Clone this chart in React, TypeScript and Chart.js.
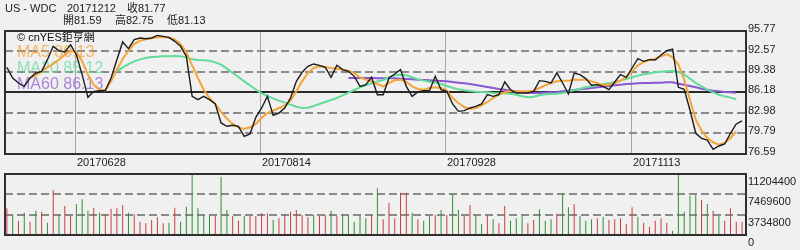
import React, { useEffect, useRef } from 'react';
import { Chart, registerables } from 'chart.js';

Chart.register(...registerables);

// ---- data ----
const CLOSE = [
  90.11, 88.44, 87.66, 87.14, 88.44, 89.22, 89.48, 91.3, 93.38, 92.7,
  92.5, 93.64, 92.08, 88.96, 85.43, 86.36, 86.47, 86.47, 88.44, 91.3,
  94.06, 93.02, 94.42, 94.68, 94.57, 94.68, 95.09, 94.94, 94.78, 94.16,
  93.38, 91.82, 85.58, 85.07, 85.58, 85.07, 84.39, 81.43, 80.91, 81.06,
  80.91, 79.35, 79.71, 82.31, 83.77, 85.58, 82.62, 82.98, 83.77, 85.32,
  87.92, 89.33, 90.26, 90.63, 90.42, 90.1, 88.55, 90.42, 89.74, 89.48,
  88.7, 87.14, 87.4, 88.55, 85.84, 85.84, 88.44, 89.07, 89.74, 87.14,
  85.58, 86.26, 86.47, 86.47, 88.7, 86.62, 86.36, 84.39, 83.24, 83.35,
  83.77, 84.02, 84.39, 85.84, 85.58, 85.84, 87.82, 86.62, 86.1, 86.1,
  86.1, 86.36, 88.03, 87.92, 87.66, 89.22, 87.66, 85.95, 89.22, 88.96,
  88.34, 87.3, 87.4, 87.14, 86.62, 87.82, 88.96, 88.55, 90.0, 91.46,
  91.04, 91.3, 91.25, 92.03, 92.7, 92.96, 86.99, 86.68, 83.45, 79.82,
  79.03, 78.77, 77.32, 77.84, 78.15, 79.82, 81.27, 81.77,
];

const MA5_START = 4;
const MA5 = [
  88.44, 88.86, 89.48, 90.1, 90.62, 91.3, 92.08, 92.7, 92.5, 91.04,
  88.96, 87.4, 86.62, 86.52, 87.92, 89.74, 91.4, 92.7, 93.74, 94.26,
  94.47, 94.63, 94.78, 94.83, 94.73, 94.47, 93.74, 92.5, 90.42, 88.44,
  86.62, 85.32, 84.39, 83.14, 82.1, 81.27, 80.75, 80.49, 80.75, 81.27,
  82.2, 82.98, 83.35, 83.76, 84.18, 84.91, 86.36, 87.92, 89.22, 90.0,
  90.26, 90.16, 90.0, 89.9, 89.74, 89.59, 89.22, 88.55, 88.18, 87.92,
  87.51, 87.14, 87.66, 88.08, 88.18, 87.82, 87.14, 86.73, 86.62, 86.88,
  86.99, 86.88, 86.47, 85.32, 84.54, 83.92, 83.61, 83.76, 84.18, 84.7,
  85.32, 85.84, 86.21, 86.36, 86.36, 86.36, 86.36, 86.47, 86.88, 87.3,
  87.66, 87.92, 88.03, 88.03, 88.18, 88.18, 88.18, 87.92, 87.66, 87.3,
  87.4, 87.66, 88.03, 88.55, 89.48, 90.42, 90.94, 91.25, 91.46, 91.82,
  92.18, 91.66, 90.52, 88.18, 85.06, 81.95, 80.23, 79.09, 78.41, 78.05,
  78.31, 79.09, 80.13,
];

const MA20_START = 19;
const MA20 = [
  89.48, 90.1, 90.62, 91.04, 91.35, 91.56, 91.72, 91.77, 91.82, 91.82,
  91.87, 91.82, 91.66, 91.35, 91.25, 91.2, 91.14, 90.88, 90.52, 89.9,
  89.22, 88.6, 87.92, 87.3, 86.62, 86.05, 85.64, 85.27, 84.91, 84.6,
  84.29, 83.97, 83.76, 83.82, 84.08, 84.39, 84.7, 85.01, 85.32, 85.74,
  86.16, 86.57, 86.99, 87.3, 87.61, 87.92, 88.13, 88.55, 88.86, 88.96,
  88.86, 88.55, 88.23, 88.03, 87.87, 87.71, 87.51, 87.19, 86.93, 86.67,
  86.52, 86.41, 86.31, 86.26, 86.21, 86.1, 86.05, 86.05, 86.0, 85.84,
  85.58, 85.43, 85.53, 85.74, 85.9, 85.95, 86.0, 86.1, 86.36, 86.57,
  86.78, 86.99, 87.14, 87.3, 87.45, 87.61, 87.82, 88.03, 88.29, 88.55,
  88.81, 89.01, 89.17, 89.33, 89.43, 89.48, 89.53, 89.38, 88.96, 88.34,
  87.66, 87.14, 86.62, 86.21, 85.84, 85.58, 85.38, 85.12,
];

const MA60_START = 59;
const MA60 = [
  88.44, 88.44, 88.44, 88.44, 88.44, 88.39, 88.39, 88.39, 88.39, 88.34,
  88.29, 88.23, 88.18, 88.13, 88.08, 88.03, 87.97, 87.92, 87.82, 87.71,
  87.61, 87.51, 87.35, 87.19, 87.04, 86.88, 86.73, 86.62, 86.47, 86.36,
  86.26, 86.16, 86.1, 86.1, 86.16, 86.21, 86.26, 86.36, 86.47, 86.57,
  86.67, 86.78, 86.88, 86.99, 87.09, 87.19, 87.3, 87.4, 87.51, 87.56,
  87.61, 87.66, 87.66, 87.71, 87.71, 87.77, 87.77, 87.56, 87.4, 87.19,
  86.99, 86.78, 86.62, 86.47, 86.36, 86.26, 86.21, 86.13,
];

const VOLUME = [
  4900000, 3670000, 2630000, 4100000, 2450000, 4470000, 4290000, 2270000, 8270000, 3670000,
  5330000, 3490000, 5700000, 6550000, 4470000, 5020000, 4100000, 3800000, 4840000, 5020000,
  5510000, 4100000, 3800000, 2450000, 2140000, 2760000, 3250000, 2140000, 2270000, 5020000,
  2450000, 5200000, 11000000, 4900000, 3670000, 3670000, 3490000, 10700000, 4590000, 3490000,
  2630000, 3490000, 3490000, 3490000, 3980000, 3980000, 2760000, 3060000, 3800000, 4290000,
  4590000, 3670000, 3250000, 3670000, 3490000, 3670000, 4470000, 3490000, 3800000, 3670000,
  2450000, 3670000, 3060000, 3670000, 8570000, 2880000, 5940000, 3060000, 7780000, 7780000,
  4100000, 2880000, 2630000, 3490000, 3670000, 4590000, 3670000, 7530000, 4590000, 3490000,
  5510000, 3490000, 2020000, 3670000, 2880000, 2140000, 5330000, 2630000, 3060000, 3490000,
  2140000, 2760000, 4720000, 2630000, 2880000, 3900000, 7650000, 5080000, 5690000, 3490000,
  2630000, 2880000, 3060000, 3370000, 2760000, 2880000, 3060000, 2020000, 5080000, 3370000,
  2270000, 1530000, 2630000, 3060000, 2270000, 800000, 11204400, 4290000, 7160000, 7350000,
  6430000, 5690000, 4470000, 3490000, 2630000, 4900000, 2450000, 2450000,
];

// 1 = up day (red bar), 0 = down day (green bar)
const VOL_UP = [
  1, 0, 1, 0, 1, 0, 1, 0, 1, 0,
  1, 1, 0, 0, 0, 1, 0, 1, 1, 1,
  1, 0, 1, 1, 1, 1, 1, 1, 0, 1,
  0, 0, 0, 0, 0, 0, 1, 0, 0, 1,
  1, 0, 1, 1, 1, 1, 0, 1, 1, 1,
  1, 1, 1, 0, 1, 1, 0, 1, 0, 0,
  0, 0, 0, 1, 0, 1, 1, 1, 1, 1,
  0, 1, 0, 0, 1, 0, 1, 0, 0, 1,
  1, 0, 0, 1, 0, 1, 1, 0, 0, 0,
  1, 1, 0, 0, 0, 1, 0, 0, 1, 0,
  0, 0, 1, 0, 1, 1, 1, 1, 1, 0,
  1, 1, 1, 1, 1, 0, 0, 0, 0, 0,
  1, 0, 1, 0, 1, 1, 1, 1,
];

const PRICE_TICKS = [95.77, 92.57, 89.38, 86.18, 82.98, 79.79, 76.59];
const PRICE_BASE = 86.18;
const VOLUME_TICKS = [11204400, 7469600, 3734800, 0];
const DATE_LABELS = ['20170628', '20170814', '20170928', '20171113'];
const DATE_INDEX = [12, 44, 76, 108];
const TITLE_LINE1 = ['US - WDC', '20171212', '收81.77'];
const TITLE_LINE2 = ['開81.59', '高82.75', '低81.13'];
const LEGEND = ['MA5 80.13', 'MA20 85.12', 'MA60 86.13'];
const WATERMARK = '© cnYES鉅亨網';

// ---- styles ----
const FONT = '"Liberation Sans", "Noto Sans CJK TC", sans-serif';
const C_CLOSE = '#1c1c1c';
const C_MA5 = '#f3a53a';
const C_MA20 = '#62dc98';
const C_MA60 = '#8a58d0';
const LEGEND_COLORS = ['rgba(243,165,58,0.75)', 'rgba(98,220,152,0.7)', 'rgba(138,88,208,0.7)'];
const C_UP = '#cc3c3c';
const C_DOWN = '#2f902f';
const X_MIN = -0.328;
const X_MAX = 127.68;

const toPts = (arr: number[], start: number) => arr.map((v, k) => ({ x: start + k, y: v }));

function dashedH(ctx: CanvasRenderingContext2D, left: number, right: number, yy: number) {
  ctx.save();
  ctx.strokeStyle = '#8a8a8a';
  ctx.lineWidth = 2;
  ctx.setLineDash([8, 4]);
  ctx.beginPath();
  ctx.moveTo(left, yy);
  ctx.lineTo(right, yy);
  ctx.stroke();
  ctx.restore();
}

const pricePlugin = {
  id: 'priceDecor',
  beforeDatasetsDraw(chart: any) {
    const { ctx, chartArea: a } = chart;
    const x = chart.scales.x;
    const y = chart.scales.y;
    ctx.save();
    ctx.strokeStyle = '#a6a6a6';
    ctx.lineWidth = 1;
    DATE_INDEX.forEach((idx) => {
      const px = Math.floor(x.getPixelForValue(idx)) - 0.5;
      ctx.beginPath();
      ctx.moveTo(px, a.top);
      ctx.lineTo(px, a.bottom);
      ctx.stroke();
    });
    PRICE_TICKS.forEach((v, k) => {
      if (k === 0 || k === PRICE_TICKS.length - 1) return;
      const py = Math.floor(y.getPixelForValue(v) + 0.45);
      if (v === PRICE_BASE) {
        ctx.strokeStyle = '#2a2a2a';
        ctx.lineWidth = 2;
        ctx.beginPath();
        ctx.moveTo(a.left, py);
        ctx.lineTo(a.right, py);
        ctx.stroke();
      } else {
        dashedH(ctx, a.left, a.right, py);
      }
    });
    ctx.textAlign = 'left';
    ctx.textBaseline = 'alphabetic';
    ctx.fillStyle = '#111';
    ctx.font = `11px ${FONT}`;
    ctx.fillText(WATERMARK, a.left + 12, a.top + 10);
    ctx.font = `16px ${FONT}`;
    LEGEND.forEach((t, k) => {
      ctx.fillStyle = LEGEND_COLORS[k];
      ctx.fillText(t, a.left + 12, a.top + 26 + k * 16);
    });
    ctx.restore();
  },
  afterDraw(chart: any) {
    const { ctx, chartArea: a } = chart;
    const x = chart.scales.x;
    const y = chart.scales.y;
    ctx.save();
    ctx.strokeStyle = '#2f2f2f';
    ctx.lineWidth = 2;
    ctx.setLineDash([]);
    ctx.strokeRect(a.left, a.top, a.right - a.left, a.bottom - a.top);
    ctx.fillStyle = '#222';
    ctx.font = `11px ${FONT}`;
    ctx.textAlign = 'left';
    ctx.textBaseline = 'alphabetic';
    PRICE_TICKS.forEach((v) => {
      ctx.fillText(v.toFixed(2), a.right + 2, Math.round(y.getPixelForValue(v)) + 1);
    });
    DATE_LABELS.forEach((lbl, k) => {
      const px = Math.floor(x.getPixelForValue(DATE_INDEX[k])) - 0.5;
      ctx.fillText(lbl, px + 1.5, a.bottom + 12);
    });
    const x1 = [5, 67, 127];
    const x2 = [63, 115, 167];
    TITLE_LINE1.forEach((t, k) => ctx.fillText(t, x1[k], 12));
    TITLE_LINE2.forEach((t, k) => ctx.fillText(t, x2[k], 24));
    ctx.restore();
  },
};

const volumePlugin = {
  id: 'volumeDecor',
  beforeDatasetsDraw(chart: any) {
    const { ctx, chartArea: a } = chart;
    const y = chart.scales.y;
    VOLUME_TICKS.forEach((v, k) => {
      if (k === 0 || k === VOLUME_TICKS.length - 1) return;
      dashedH(ctx, a.left, a.right, Math.round(y.getPixelForValue(v)));
    });
  },
  afterDraw(chart: any) {
    const { ctx, chartArea: a } = chart;
    const y = chart.scales.y;
    ctx.save();
    ctx.strokeStyle = '#2f2f2f';
    ctx.lineWidth = 2;
    ctx.strokeRect(a.left, a.top, a.right - a.left, a.bottom - a.top);
    ctx.fillStyle = '#222';
    ctx.font = `11px ${FONT}`;
    ctx.textAlign = 'left';
    ctx.textBaseline = 'alphabetic';
    VOLUME_TICKS.forEach((v) => {
      ctx.fillText(String(v), a.right + 2, Math.round(y.getPixelForValue(v)) + 11);
    });
    ctx.restore();
  },
};

export default function App() {
  const priceRef = useRef<HTMLCanvasElement>(null);
  const volRef = useRef<HTMLCanvasElement>(null);

  useEffect(() => {
    const common = {
      responsive: false,
      animation: false as const,
      devicePixelRatio: 1,
      events: [] as any[],
      plugins: { legend: { display: false }, tooltip: { enabled: false } },
    };
    const priceChart = new Chart(priceRef.current!, {
      type: 'line',
      data: {
        datasets: [
          { data: toPts(CLOSE, 0), borderColor: C_CLOSE, borderWidth: 1.4 },
          { data: toPts(MA5, MA5_START), borderColor: C_MA5, borderWidth: 2 },
          { data: toPts(MA20, MA20_START), borderColor: C_MA20, borderWidth: 2 },
          { data: toPts(MA60, MA60_START), borderColor: C_MA60, borderWidth: 2 },
        ],
      },
      options: {
        ...common,
        layout: { padding: { left: 5, right: 54, top: 31, bottom: 16 } },
        elements: { point: { radius: 0 }, line: { tension: 0, fill: false } },
        scales: {
          x: { type: 'linear', min: X_MIN, max: X_MAX, display: false },
          y: { type: 'linear', min: PRICE_TICKS[PRICE_TICKS.length - 1], max: PRICE_TICKS[0], display: false },
        },
      } as any,
      plugins: [pricePlugin],
    });
    const volChart = new Chart(volRef.current!, {
      type: 'bar',
      data: {
        datasets: [
          {
            data: toPts(VOLUME, 0),
            backgroundColor: VOL_UP.map((u) => (u ? C_UP : C_DOWN)),
            borderWidth: 0,
            barThickness: 1,
            inflateAmount: 0,
          } as any,
        ],
      },
      options: {
        ...common,
        layout: { padding: { left: 5, right: 54, top: 14, bottom: 15 } },
        scales: {
          x: { type: 'linear', min: X_MIN, max: X_MAX, display: false, offset: false },
          y: { type: 'linear', min: 0, max: VOLUME_TICKS[0], display: false },
        },
      } as any,
      plugins: [volumePlugin],
    });
    return () => {
      priceChart.destroy();
      volChart.destroy();
    };
  }, []);

  return (
    <div style={{ position: 'fixed', left: 0, top: 0, width: 800, height: 250, background: '#f0f0f0', overflow: 'hidden' }}>
      <canvas ref={priceRef} width={800} height={170} style={{ position: 'absolute', left: 0, top: 0, width: 800, height: 170 }} />
      <canvas ref={volRef} width={800} height={90} style={{ position: 'absolute', left: 0, top: 160, width: 800, height: 90 }} />
    </div>
  );
}
